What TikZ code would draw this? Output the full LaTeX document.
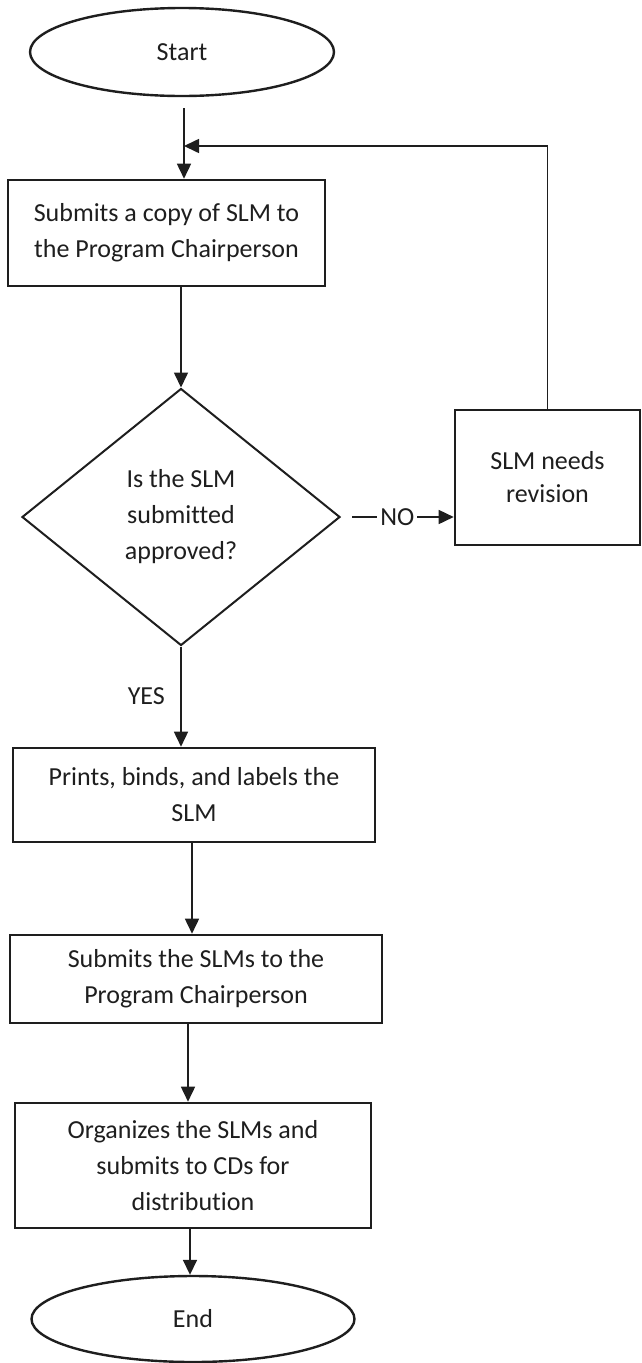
\documentclass[tikz,border=0pt]{standalone}
\usepackage{fontspec}
\setmainfont{Carlito}[Ligatures=NoCommon]
\usetikzlibrary{shapes.geometric,arrows.meta}
\definecolor{ink}{HTML}{1E1E1E}
\begin{document}
\begin{tikzpicture}[x=1pt,y=1pt,
  every node/.style={font=\fontsize{26}{36}\selectfont, text=ink},
  box/.style={draw=ink, line width=2.6pt, rectangle, inner sep=0pt, align=center},
  term/.style={draw=ink, line width=2.4pt, ellipse, inner sep=0pt},
  decision/.style={draw=ink, line width=2pt, diamond, inner sep=0pt, align=center},
  conn/.style={draw=ink, line width=1.6pt, -{Triangle[length=15pt,width=14pt]}},
  lbl/.style={fill=white, inner sep=3pt}]
\useasboundingbox (0,0) rectangle (642,-1363);

\node[term, minimum width=304pt, minimum height=88pt] (start) at (182,-52) {Start};
\node[box, minimum width=317pt, minimum height=106pt] (b1) at (166.5,-233)
  {Submits a copy of SLM to\\the Program Chairperson};
\node[decision, minimum width=318pt, minimum height=257pt] (dia) at (181,-517)
  {Is the SLM\\submitted\\approved?};
\node[box, minimum width=185pt, minimum height=135pt, font=\fontsize{26}{33}\selectfont] (rev) at (547.5,-477.5)
  {SLM needs\\revision};
\node[box, minimum width=362pt, minimum height=94pt] (b2) at (194,-795)
  {Prints, binds, and labels the\\SLM};
\node[box, minimum width=372pt, minimum height=88pt] (b3) at (196,-979)
  {Submits the SLMs to the\\Program Chairperson};
\node[box, minimum width=356pt, minimum height=125pt] (b4) at (193,-1165.5)
  {Organizes the SLMs and\\submits to CDs for\\distribution};
\node[term, minimum width=323pt, minimum height=86pt] (end) at (193,-1319) {End};

\coordinate (j) at (184,-146);

\draw[conn, shorten <=11pt] (start.south -| j) -- (j |- b1.north);
\draw[conn] (rev.north) |- (j);
\draw[conn] (b1.south -| dia.north) -- (dia.north);
\draw[conn, shorten <=11pt] (dia.east) -- node[lbl]{NO} (dia.east -| rev.west);
\draw[conn] (dia.south) -- node[left=12pt]{YES} (dia.south |- b2.north);
\draw[conn] (b2.south -| 192,0) -- (192,0 |- b3.north);
\draw[conn] (b3.south -| 188,0) -- (188,0 |- b4.north);
\draw[conn] (b4.south -| 190,0) -- (190,0 |- end.north);
\end{tikzpicture}
\end{document}
